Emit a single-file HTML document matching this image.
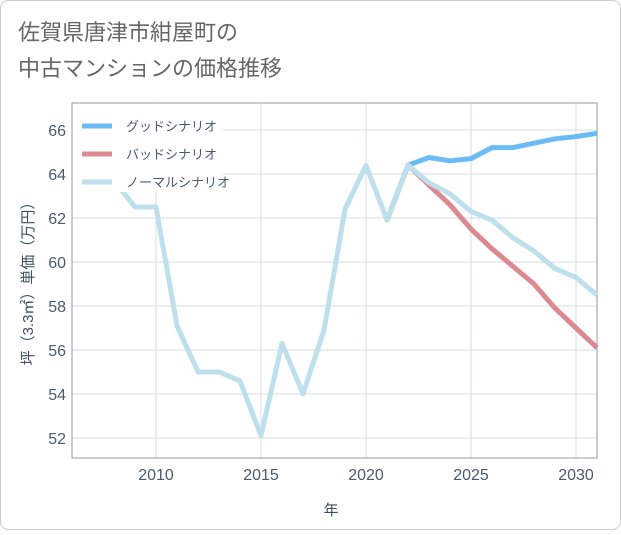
<!DOCTYPE html>
<html><head><meta charset="utf-8"><style>
body{margin:0;background:#fff;font-family:"Liberation Sans","Noto Sans CJK JP",sans-serif;}
#wrap{position:relative;width:621px;height:530px;}
</style></head><body>
<div id="wrap">
<svg id="c" width="621" height="530" xmlns="http://www.w3.org/2000/svg">
<rect x="0.5" y="0.5" width="620" height="529" rx="8" fill="#fff" stroke="#ccc"/>
<text x="18" y="40" font-size="22" fill="#666" font-family="Liberation Sans, Noto Sans CJK JP, sans-serif">佐賀県唐津市紺屋町の</text>
<text x="18" y="76" font-size="22" fill="#666" font-family="Liberation Sans, Noto Sans CJK JP, sans-serif">中古マンションの価格推移</text>
<g id="grid"></g>
<g id="series"></g>
<g id="legend"></g>
<text x="331" y="515" font-size="15" fill="#3d4f63" text-anchor="middle" font-family="Liberation Sans, Noto Sans CJK JP, sans-serif">年</text>
<text transform="translate(33,280) rotate(-90)" font-size="15" fill="#3d4f63" text-anchor="middle" font-family="Liberation Sans, Noto Sans CJK JP, sans-serif">坪（3.3㎡）単価（万円）</text>
</svg>
</div>
<script>
const years=[2008,2009,2010,2011,2012,2013,2014,2015,2016,2017,2018,2019,2020,2021,2022,2023,2024,2025,2026,2027,2028,2029,2030,2031];
const normalVals=[63.7,62.5,62.5,57.1,55.0,55.0,54.6,52.1,56.3,54.0,56.9,62.4,64.4,61.9,64.4,63.6,63.1,62.3,61.9,61.1,60.5,59.7,59.3,58.5];
const futureYears=[2021,2022,2023,2024,2025,2026,2027,2028,2029,2030,2031];
const goodVals=[61.9,64.4,64.75,64.6,64.7,65.2,65.2,65.4,65.6,65.7,65.85];
const badVals=[61.9,64.4,63.5,62.6,61.5,60.6,59.8,59.0,57.9,57.0,56.1];
const xTicks=[2010,2015,2020,2025,2030];
const yTicks=[52,54,56,58,60,62,64,66];
const L=72,R=597,T=103,B=458;
const x=v=>L+(v-2006)*(R-L)/25;
const y=v=>130+(66-v)*22;
const NS="http://www.w3.org/2000/svg";
function mk(t,a,p){const e=document.createElementNS(NS,t);for(const k in a)e.setAttribute(k,a[k]);p.appendChild(e);return e;}
const g=document.getElementById('grid');
yTicks.forEach(v=>{
 const l=mk('line',{x1:L,x2:R,y1:y(v),y2:y(v),stroke:'#d5dde6','stroke-width':1},g);
 
 
 const t=mk('text',{x:L-6,y:y(v)+6,'font-size':16,fill:'#4a5b6e','text-anchor':'end'},g);
 t.textContent=v;
 
 
});
xTicks.forEach(v=>{
 const l=mk('line',{x1:x(v),x2:x(v),y1:T,y2:B,stroke:'#d5dde6','stroke-width':1},g);
 
 
 const t=mk('text',{x:x(v),y:B+22,'font-size':16,fill:'#4a5b6e','text-anchor':'middle'},g);
 t.textContent=v;
 
 
});
const fr=mk('rect',{x:L,y:T,width:R-L,height:B-T,fill:'none',stroke:'#999','stroke-width':1},g);


const s=document.getElementById('series');
function line(xs,vs,col,name){
 const p=mk('polyline',{points:xs.map((a,i)=>x(a)+','+y(vs[i])).join(' '),fill:'none',stroke:col,'stroke-width':5,'stroke-linejoin':'round'},s);
 
 
}
line(futureYears,goodVals,'#6bbcf5','good-scenario-line');
line(futureYears,badVals,'#dc8a8f','bad-scenario-line');
line(years,normalVals,'#bde0ec','normal-scenario-line');
const lg=document.getElementById('legend');
const bg=mk('rect',{x:L+1,y:T+1,width:150,height:88,fill:'#fff'},lg);


[['グッドシナリオ','#6bbcf5'],['バッドシナリオ','#dc8a8f'],['ノーマルシナリオ','#bde0ec']].forEach((d,i)=>{
 const yy=126+i*28;
 const l=mk('line',{x1:82,x2:112,y1:yy,y2:yy,stroke:d[1],'stroke-width':5},lg);
 
 
 const t=mk('text',{x:126,y:yy+5,'font-size':13,fill:'#4a5b6e'},lg);
 t.textContent=d[0];
 
 
});
</script>
</body></html>
